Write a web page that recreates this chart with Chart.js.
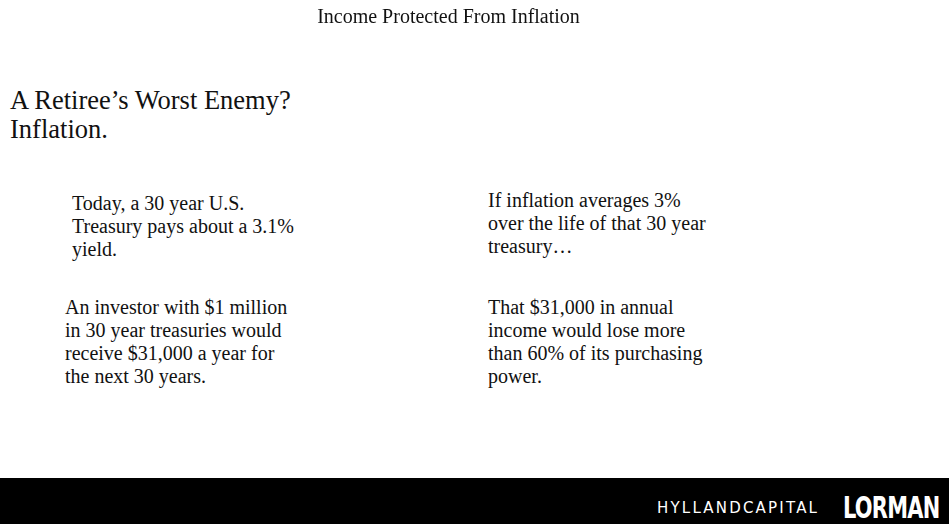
<!DOCTYPE html>
<html>
<head>
<meta charset="utf-8">
<script src="https://cdn.jsdelivr.net/npm/chart.js@4"></script>
<style>
  body { margin:0; width:949px; height:524px; position:relative; background:#fff; overflow:hidden; font-family:"Liberation Serif", serif; color:#111; }
  #wrap { position:absolute; left:0; top:0; width:897px; height:40px; }
  .t { position:absolute; font-size:20px; line-height:23px; }
  h1 { position:absolute; left:10px; top:86px; margin:0; font-weight:normal; font-size:26.5px; line-height:29px; }
  #bar { position:absolute; left:0; top:478px; width:949px; height:46px; background:#000; }
  #hc { position:absolute; left:657px; top:499px; color:#fff; font-family:"DejaVu Sans", sans-serif; font-size:15px; letter-spacing:2.2px; }
  #lorman { position:absolute; left:843px; top:489px; color:#fff; font-family:"Liberation Sans Narrow","DejaVu Sans Condensed",sans-serif; font-weight:bold; font-size:31px; transform:scaleX(0.75); transform-origin:left; letter-spacing:-1px; }
</style>
</head>
<body>
<div id="wrap"><canvas id="chart-title"></canvas></div>
<h1>A Retiree’s Worst Enemy?<br>Inflation.</h1>
<div class="t" style="left:72px;top:192px">Today, a 30 year U.S.<br>Treasury pays about a 3.1%<br>yield.</div>
<div class="t" style="left:65px;top:296px">An investor with $1 million<br>in 30 year treasuries would<br>receive $31,000 a year for<br>the next 30 years.</div>
<div class="t" style="left:488px;top:189px">If inflation averages 3%<br>over the life of that 30 year<br>treasury…</div>
<div class="t" style="left:488px;top:296px">That $31,000 in annual<br>income would lose more<br>than 60% of its purchasing<br>power.</div>
<div id="bar"></div>
<div id="hc">HYLLANDCAPITAL</div>
<div id="lorman">LORMAN</div>
<script>
// slide title only, no series on this slide
const titleText = 'Income Protected From Inflation';
const categories = [];
const values = [];

new Chart(document.getElementById('chart-title'), {
    type: 'bar',
    data: { labels: categories, datasets: [{ data: values }] },
    options: {
        responsive: true,
        maintainAspectRatio: false,
        animation: false,
        layout: { padding: { top: 6 } },
        plugins: {
            legend: { display: false },
            tooltip: { enabled: false },
            title: {
                display: true,
                text: titleText,
                color: '#111',
                font: { family: 'Liberation Serif', size: 20, weight: 'normal' },
                padding: 0
            }
        },
        scales: { x: { display: false }, y: { display: false } }
    }
});
</script>
</body>
</html>
